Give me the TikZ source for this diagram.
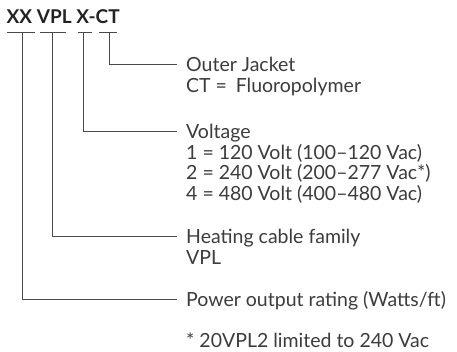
\documentclass[tikz,border=0pt]{standalone}
\usepackage{fontspec}
\setmainfont{Lato}
\definecolor{txt}{HTML}{3C3C3C}
\definecolor{ttl}{HTML}{222222}
\definecolor{ln}{HTML}{4A4A4A}
\begin{document}
\begin{tikzpicture}[x=1pt,y=-1pt,
  body/.style={inner sep=0pt,font=\fontsize{19.5}{20.5}\selectfont,text=txt},
  lbl/.style={body,anchor=west,text height=14pt,text depth=0pt},
  sub/.style={body,anchor=base west},
  conn/.style={draw=ln,line width=1pt},
  lead/.style={conn,shorten >=9pt}]
\useasboundingbox[fill=white] (0,0) rectangle (457,352);
% title
\node[anchor=base west,inner sep=0pt,font=\bfseries\fontsize{19}{21}\selectfont,text=ttl] (title) at (6.5,23.5) {XX VPL X-CT};
% underlines
\coordinate (xxL) at (7,33);  \coordinate (xxR) at (35,33);
\coordinate (vpL) at (40,33); \coordinate (vpR) at (66,33);
\coordinate (xL) at (78,33);  \coordinate (xR) at (92,33);
\coordinate (ctL) at (99,33); \coordinate (ctR) at (117,33);
\draw[conn] (xxL) -- (xxR) (vpL) -- (vpR) (xL) -- (xR) (ctL) -- (ctR);
\coordinate (xx) at (22,33);
\coordinate (vpl) at (52,33);
\coordinate (xv) at (83,33);
\coordinate (ct) at (109,33);
% labels
\node[lbl] (outer) at (186,65) {Outer Jacket};
\node[sub] (outer2) at (186,92.5) {CT =\hspace{0.45em}Fluoropolymer};
\node[lbl] (volt) at (186,132) {Voltage};
\node[sub] (volt1) at (186,159.5) {1 = 120 Volt (100--120 Vac)};
\node[sub] (volt2) at (186,180) {2 = 240 Volt (200--277 Vac*)};
\node[sub] (volt4) at (186,200.5) {4 = 480 Volt (400--480 Vac)};
\node[lbl] (heat) at (186,237) {Heating cable family};
\node[sub] (heat2) at (186,264.5) {VPL};
\node[lbl] (power) at (186,299) {Power output rating (Watts/ft)};
\node[sub] (note) at (186,347) {* 20VPL2 limited to 240 Vac};
% connectors
\draw[lead] (ct) |- (outer.west);
\draw[lead] (xv) |- (volt.west);
\draw[lead] (vpl) |- (heat.west);
\draw[lead] (xx) |- (power.west);
\end{tikzpicture}
\end{document}
